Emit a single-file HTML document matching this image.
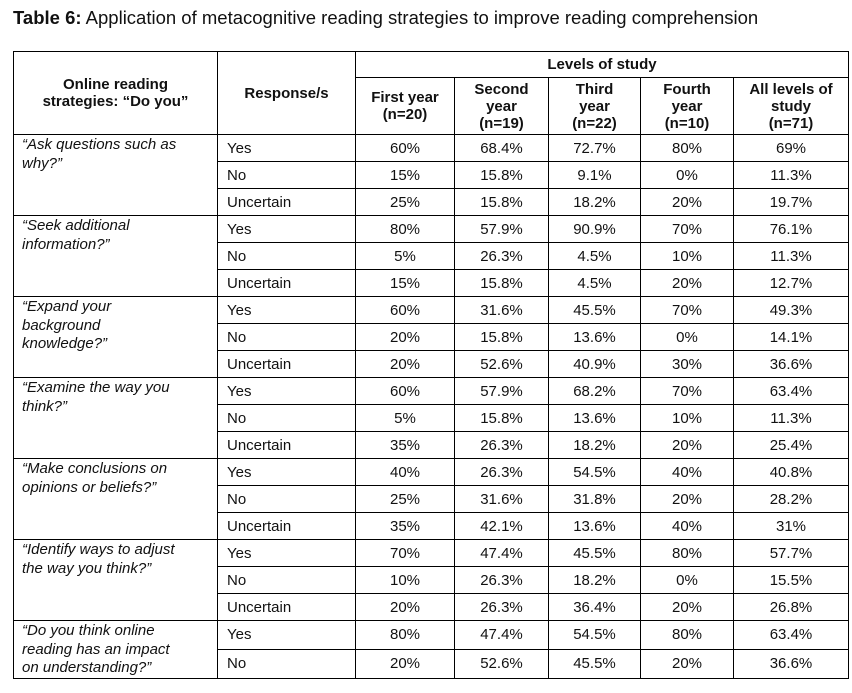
<!DOCTYPE html>
<html><head><meta charset="utf-8"><style>
body{margin:0;width:852px;height:693px;background:#fff;font-family:"Liberation Sans",Arial,sans-serif;color:#111;overflow:hidden;position:relative}
.title{position:absolute;left:13px;top:7px;font-size:18.5px}
table{position:absolute;left:13px;top:51px;border-collapse:collapse;table-layout:fixed;font-size:15px}
td,th{border:1px solid #000;padding:0;line-height:17px}
th{font-weight:bold;text-align:center}
td.v{text-align:center}
td.r{padding-left:9px}
td.s{font-style:italic;vertical-align:top;padding:1px 4px 0 8px;line-height:18.5px}
tr.d{height:27px}
</style></head><body>
<div class="title"><b>Table 6:</b> Application of metacognitive reading strategies to improve reading comprehension</div>
<table>
<colgroup><col style="width:204px"><col style="width:138px"><col style="width:99px"><col style="width:94px"><col style="width:92px"><col style="width:93px"><col style="width:115px"></colgroup>
<tr style="height:26px"><th rowspan="2">Online reading<br>strategies: “Do you”</th><th rowspan="2">Response/s</th><th colspan="5">Levels of study</th></tr>
<tr style="height:57px"><th>First year<br>(n=20)</th><th>Second<br>year<br>(n=19)</th><th>Third<br>year<br>(n=22)</th><th>Fourth<br>year<br>(n=10)</th><th>All levels of<br>study<br>(n=71)</th></tr>
<tbody id="tb"></tbody>
</table>
<script>
const strategies=["“Ask questions such as|why?”","“Seek additional|information?”","“Expand your|background|knowledge?”","“Examine the way you|think?”","“Make conclusions on|opinions or beliefs?”","“Identify ways to adjust|the way you think?”","“Do you think online|reading has an impact|on understanding?”"];
const responses=[["Yes","No","Uncertain"],["Yes","No","Uncertain"],["Yes","No","Uncertain"],["Yes","No","Uncertain"],["Yes","No","Uncertain"],["Yes","No","Uncertain"],["Yes","No"]];
const values=[
[["60%","68.4%","72.7%","80%","69%"],["15%","15.8%","9.1%","0%","11.3%"],["25%","15.8%","18.2%","20%","19.7%"]],
[["80%","57.9%","90.9%","70%","76.1%"],["5%","26.3%","4.5%","10%","11.3%"],["15%","15.8%","4.5%","20%","12.7%"]],
[["60%","31.6%","45.5%","70%","49.3%"],["20%","15.8%","13.6%","0%","14.1%"],["20%","52.6%","40.9%","30%","36.6%"]],
[["60%","57.9%","68.2%","70%","63.4%"],["5%","15.8%","13.6%","10%","11.3%"],["35%","26.3%","18.2%","20%","25.4%"]],
[["40%","26.3%","54.5%","40%","40.8%"],["25%","31.6%","31.8%","20%","28.2%"],["35%","42.1%","13.6%","40%","31%"]],
[["70%","47.4%","45.5%","80%","57.7%"],["10%","26.3%","18.2%","0%","15.5%"],["20%","26.3%","36.4%","20%","26.8%"]],
[["80%","47.4%","54.5%","80%","63.4%"],["20%","52.6%","45.5%","20%","36.6%"]]];
const tb=document.getElementById('tb');
strategies.forEach((s,i)=>{
  responses[i].forEach((r,j)=>{
    const tr=document.createElement('tr');tr.className='d';
    
    
    if(j===0){const td=document.createElement('td');td.className='s';td.rowSpan=responses[i].length;
      s.split('|').forEach((line,k)=>{if(k)td.appendChild(document.createElement('br'));td.appendChild(document.createTextNode(line));});
      
      
      tr.appendChild(td);}
    const rc=document.createElement('td');rc.className='r';rc.textContent=r;
    
    
    tr.appendChild(rc);
    values[i][j].forEach(v=>{const c=document.createElement('td');c.className='v';c.textContent=v;
      
      
      tr.appendChild(c);});
    tb.appendChild(tr);
  });
});
</script>
</body></html>
